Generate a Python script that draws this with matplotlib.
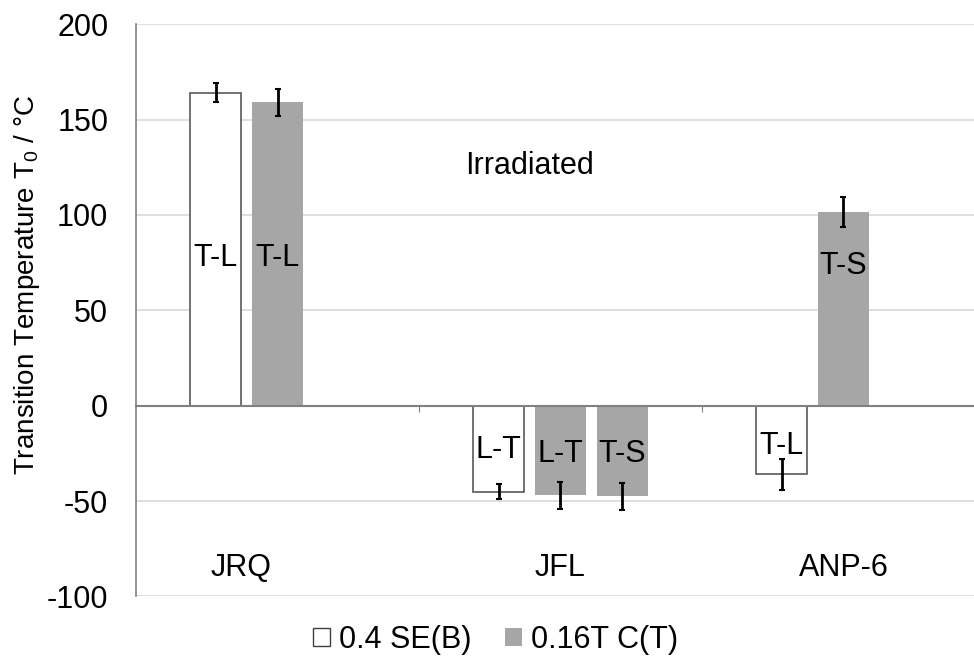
import matplotlib
matplotlib.use("Agg")
import matplotlib.pyplot as plt
import numpy as np
from matplotlib.patches import Patch

plt.rcParams['font.family'] = ['Liberation Sans', 'DejaVu Sans']
plt.rcParams['mathtext.fontset'] = 'custom'
plt.rcParams['mathtext.rm'] = 'Liberation Sans'
plt.rcParams['mathtext.it'] = 'Liberation Sans'

# -------------------------------
# data
# -------------------------------
categories = ["JRQ", "JFL", "ANP-6"]

se_b = [164, -45, -36]
se_b_err = [5, 4, 8]
se_b_tags = ["T-L", "L-T", "T-L"]
se_b_tag_y = [73, -27.5, -25.5]

c_t = [159, -47, 101.5]
c_t_err = [7, 7, 8]
c_t_tags = ["T-L", "L-T", "T-S"]
c_t_tag_y = [73, -29.5, 69]

# extra JFL bar (T-S orientation, same material as C(T))
c_t2 = [np.nan, -47.5, np.nan]
c_t2_err = [0, 7, 0]
c_t2_tags = ["", "T-S", ""]
c_t2_tag_y = [0, -29.5, 0]

GREY = "#a6a6a6"
FS = 22

fig = plt.figure(figsize=(9.74, 6.58), dpi=100)
ax = fig.add_axes([136 / 974, 1 - 596.4 / 658, 838 / 974, (596.4 - 24.3) / 658])

x = np.arange(len(categories)) + 0.5
off = 0.219
w = 0.177

ax.bar(x - off, se_b, w, color="white", edgecolor="#595959", linewidth=1.2, zorder=3)
ax.bar(x, c_t, w, color=GREY, zorder=3)
ax.bar(x + off, c_t2, w, color=GREY, zorder=3)

ekw = dict(fmt="none", ecolor="black", elinewidth=2, capsize=2.5, capthick=1.5, zorder=4)
ax.errorbar(x - off, se_b, yerr=se_b_err, **ekw)
ax.errorbar(x, c_t, yerr=c_t_err, **ekw)
mask = ~np.isnan(c_t2)
ax.errorbar((x + off)[mask], np.array(c_t2)[mask], yerr=np.array(c_t2_err)[mask], **ekw)

# orientation tags inside the bars
for xs, tags, ys in [(x - off, se_b_tags, se_b_tag_y),
                     (x, c_t_tags, c_t_tag_y),
                     (x + off, c_t2_tags, c_t2_tag_y)]:
    for xi, t, yi in zip(xs, tags, ys):
        if t:
            ax.text(xi, yi, t, ha="center", va="baseline", fontsize=FS, zorder=5)

# material names sit low in the plot
name_x = [0.37, 1.5, 2.5]
for xi, name in zip(name_x, categories):
    ax.text(xi, -89.5, name, ha="center", va="baseline", fontsize=FS)

ax.text(1.39, 121.3, "Irradiated", ha="center", va="baseline", fontsize=FS)

ax.set_xlim(0, 838 / 283)
ax.set_ylim(-100, 200)
ax.set_yticks(np.arange(-100, 201, 50))
ax.set_yticklabels([str(v) for v in range(-100, 201, 50)])
ax.tick_params(axis="y", length=0, labelsize=FS, pad=20)
ax.yaxis.grid(True, color="#d9d9d9", linewidth=1.2, zorder=0)
ax.set_axisbelow(True)

# category axis drawn at zero with boundary ticks
ax.spines["bottom"].set_position(("data", 0))
ax.spines["bottom"].set_color("#808080")
ax.spines["bottom"].set_linewidth(1.5)
ax.spines["bottom"].set_zorder(3.5)
ax.set_xticks([1, 2])
ax.tick_params(axis="x", length=4, color="#808080", labelbottom=False, direction="out")
ax.spines["left"].set_color("#808080")
ax.spines["left"].set_linewidth(1.2)
ax.spines["top"].set_visible(False)
ax.spines["right"].set_visible(False)

ax.set_ylabel("Transition Temperature T$_0$ / °C", fontsize=20)
ax.yaxis.set_label_coords((42 - 136) / 838, 0.545)

handles = [Patch(facecolor="white", edgecolor="#404040", linewidth=1),
           Patch(facecolor=GREY)]
fig.legend(handles, ["0.4 SE(B)", "0.16T C(T)"], loc="center", bbox_to_anchor=(0.509, 1 - 640 / 658),
           ncol=2, frameon=False, fontsize=FS, handlelength=0.55, handleheight=0.55,
           handletextpad=0.3, columnspacing=1.1)

fig.savefig("out.png", dpi=100)
